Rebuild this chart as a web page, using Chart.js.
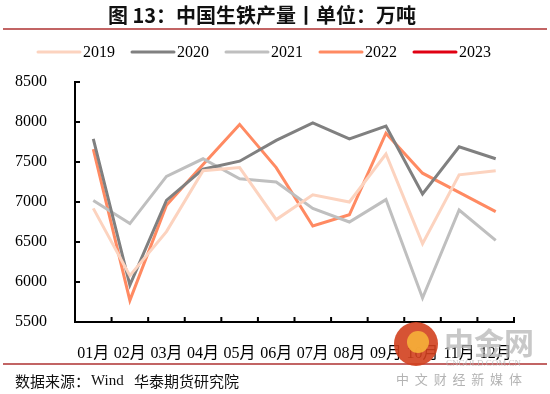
<!DOCTYPE html>
<html>
<head>
<meta charset="utf-8">
<script src="https://cdn.jsdelivr.net/npm/chart.js@4.4.0/dist/chart.umd.min.js"></script>
<style>
  body { margin: 0; background: #fff; }
  #wrap { width: 550px; height: 394px; }
</style>
</head>
<body>
<div id="wrap"><canvas id="lineChart" width="550" height="394"></canvas></div>
<script>
const months = ["01月", "02月", "03月", "04月", "05月", "06月", "07月", "08月", "09月", "10月", "11月", "12月"];
const years = ["2019", "2020", "2021", "2022", "2023"];
const colors = ["#FCD3BF", "#808080", "#BFBFBF", "#FF8A62", "#E00012"];

const v2019 = [6920, 6080, 6630, 7390, 7430, 6780, 7090, 7000, 7600, 6480, 7340, 7390];
const v2020 = [7790, 5960, 7020, 7410, 7510, 7770, 7990, 7790, 7950, 7100, 7690, 7540];
const v2021 = [7020, 6730, 7320, 7540, 7290, 7250, 6920, 6750, 7030, 5800, 6900, 6520];
const v2022 = [7660, 5770, 6960, 7470, 7970, 7430, 6700, 6840, 7860, 7360, 7120, 6880];
const v2023 = [];

const yTicks = [5500, 6000, 6500, 7000, 7500, 8000, 8500];

const serif = "'Liberation Serif', 'Noto Sans CJK SC', serif";
const cjk = "'Noto Sans CJK SC', sans-serif";

const frame = {
  id: "frame",
  afterDraw(chart) {
    const { ctx, chartArea, scales } = chart;
    ctx.save();

    // title + rules
    ctx.fillStyle = "#111";
    ctx.font = "bold 20px " + cjk;
    ctx.textAlign = "center";
    ctx.textBaseline = "middle";
    ctx.fillText("图 13：中国生铁产量丨单位：万吨", 262, 15);
    ctx.strokeStyle = "#C26464";
    ctx.lineWidth = 2;
    ctx.beginPath();
    ctx.moveTo(3, 29); ctx.lineTo(547, 29);
    ctx.moveTo(3, 364); ctx.lineTo(547, 364);
    ctx.stroke();

    // legend
    let x = 38;
    ctx.textAlign = "left";
    ctx.font = "16px " + serif;
    chart.data.datasets.forEach((ds) => {
      ctx.strokeStyle = ds.borderColor;
      ctx.lineWidth = 3;
      ctx.lineCap = "round";
      ctx.beginPath();
      ctx.moveTo(x, 52); ctx.lineTo(x + 42, 52);
      ctx.stroke();
      ctx.fillStyle = "#000";
      ctx.fillText(ds.label, x + 45, 53);
      x += 94;
    });

    // inside tick marks
    ctx.strokeStyle = "#000";
    ctx.lineWidth = 2;
    ctx.lineCap = "butt";
    ctx.beginPath();
    scales.y.ticks.forEach((t) => {
      const py = scales.y.getPixelForValue(t.value);
      ctx.moveTo(chartArea.left, py); ctx.lineTo(chartArea.left + 5, py);
    });
    const n = months.length;
    for (let i = 0; i <= n; i++) {
      const px = chartArea.left + (chartArea.right - chartArea.left) * i / n;
      ctx.moveTo(px, chartArea.bottom); ctx.lineTo(px, chartArea.bottom - 5);
    }
    ctx.stroke();

    // source
    ctx.fillStyle = "#111";
    ctx.font = "15px " + cjk;
    ctx.textBaseline = "middle";
    ctx.fillText("数据来源：", 15, 381);
    ctx.font = "15px " + serif;
    ctx.fillText("Wind", 91, 381);
    ctx.font = "15px " + cjk;
    ctx.fillText("华泰期货研究院", 134, 381);

    // watermark
    ctx.globalAlpha = 0.9;
    ctx.fillStyle = "#D2401E";
    ctx.beginPath();
    ctx.arc(416, 344, 22, 0, Math.PI * 2);
    ctx.fill();
    ctx.fillStyle = "#F6B13A";
    ctx.beginPath();
    ctx.arc(418, 342, 11, 0, Math.PI * 2);
    ctx.fill();
    ctx.globalAlpha = 0.75;
    ctx.fillStyle = "#B5B5B5";
    ctx.font = "bold 30px " + cjk;
    ctx.fillText("中金网", 444, 343);
    ctx.font = "9px " + serif;
    ctx.fillText("CNGOLD.COM.CN", 446, 364);
    ctx.font = "13px " + cjk;
    ctx.fillStyle = "#999";
    ctx.fillText("中  文  财  经  新  媒  体", 396, 379);
    ctx.restore();
  },
};

new Chart(document.getElementById("lineChart").getContext("2d"), {
  type: "line",
  data: {
    labels: months,
    datasets: [v2019, v2020, v2021, v2022, v2023].map((d, i) => ({
      label: years[i],
      data: d,
      borderColor: colors[i],
      backgroundColor: colors[i],
      borderWidth: 3,
      pointRadius: 0,
      tension: 0,
    })),
  },
  options: {
    responsive: false,
    animation: false,
    layout: { padding: { top: 82, right: 36, bottom: 0, left: 0 } },
    plugins: { legend: { display: false }, tooltip: { enabled: false } },
    scales: {
      x: {
        offset: true,
        grid: { display: false, offset: true },
        border: { display: true, color: "#000", width: 2 },
        ticks: { color: "#000", font: { size: 16, family: serif }, padding: 14, maxRotation: 0, autoSkip: false },
        afterFit: (s) => { s.height = 72; },
      },
      y: {
        min: 5500,
        max: 8500,
        afterBuildTicks: (s) => { s.ticks = yTicks.map((v) => ({ value: v })); },
        grid: { display: false },
        border: { display: true, color: "#000", width: 2 },
        ticks: { color: "#000", font: { size: 16, family: serif }, padding: 20, callback: (v) => String(v) },
        afterFit: (s) => { s.width = 75; },
      },
    },
  },
  plugins: [frame],
});
</script>
</body>
</html>
